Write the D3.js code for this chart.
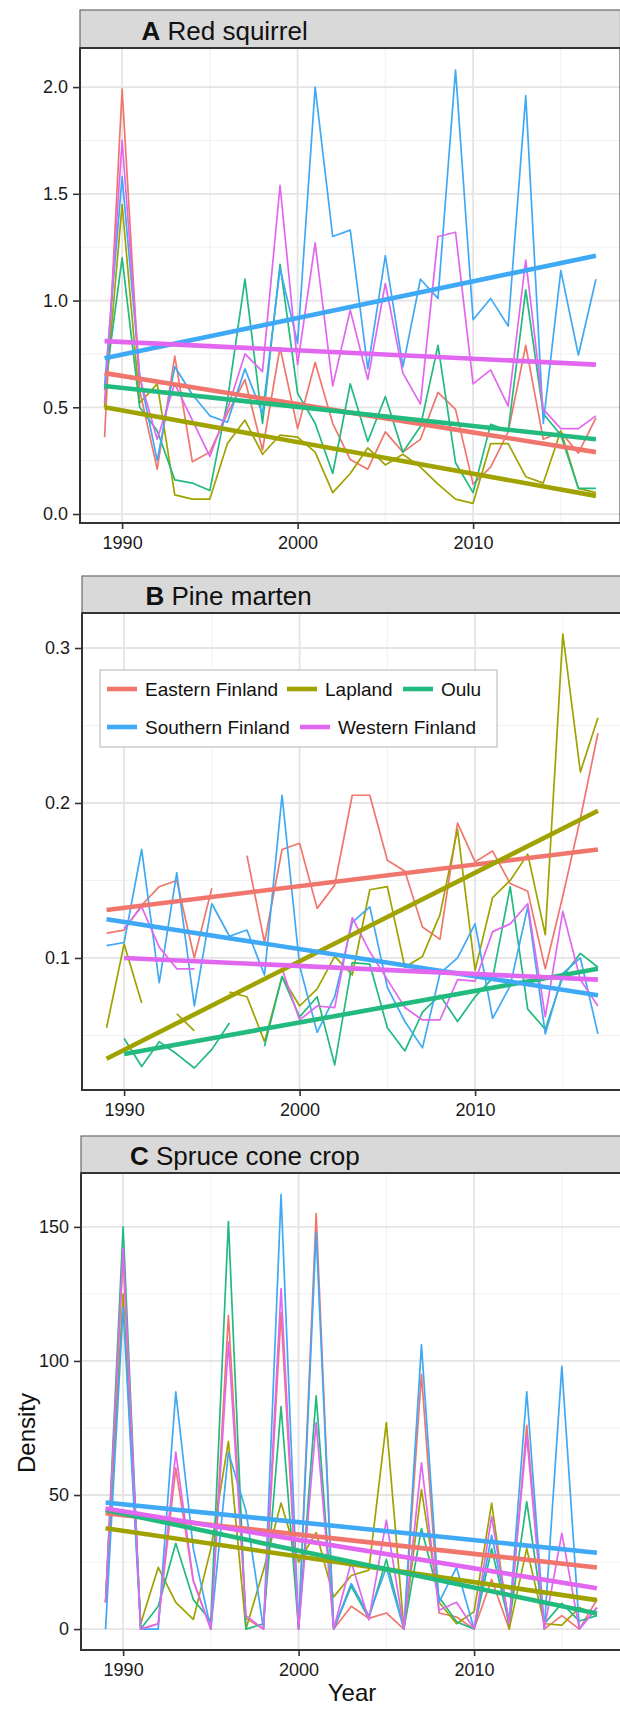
<!DOCTYPE html>
<html>
<head>
<meta charset="utf-8">
<script src="https://cdn.jsdelivr.net/npm/d3@7"></script>
<style>
  body { margin: 0; background: #fff; }
  svg { display: block; font-family: "Liberation Sans", Arial, sans-serif; }
</style>
</head>
<body>
<div id="chart"></div>
<script>
// years on the x axis
const years = [1989, 1990, 1991, 1992, 1993, 1994, 1995, 1996, 1997, 1998, 1999, 2000, 2001, 2002, 2003,
  2004, 2005, 2006, 2007, 2008, 2009, 2010, 2011, 2012, 2013, 2014, 2015, 2016, 2017];

const regions = ['Eastern Finland', 'Lapland', 'Oulu', 'Southern Finland', 'Western Finland'];
const regionColors = ['#F0766D', '#A0A200', '#22BA7E', '#3FA9F5', '#E267F0'];

const xTicks = [1990, 2000, 2010];

// A Red squirrel
const squirrelEast = [0.36, 1.99, 0.58, 0.21, 0.74, 0.245, 0.29, 0.47, 0.63, 0.30, 0.78, 0.40, 0.71, 0.425, 0.255,
  0.21, 0.385, 0.29, 0.35, 0.57, 0.49, 0.14, 0.22, 0.385, 0.79, 0.35, 0.385, 0.285, 0.45];
const squirrelLapland = [0.50, 1.45, 0.52, 0.61, 0.09, 0.07, 0.07, 0.33, 0.44, 0.28, 0.37, 0.36, 0.29, 0.10, 0.19,
  0.31, 0.23, 0.28, 0.22, 0.14, 0.07, 0.05, 0.33, 0.33, 0.175, 0.145, 0.39, 0.12, 0.10];
const squirrelOulu = [0.58, 1.20, 0.50, 0.39, 0.16, 0.145, 0.11, 0.53, 1.10, 0.425, 1.17, 0.565, 0.425, 0.19, 0.61,
  0.34, 0.55, 0.29, 0.41, 0.79, 0.24, 0.10, 0.42, 0.39, 1.05, 0.47, 0.37, 0.12, 0.12];
const squirrelSouth = [0.60, 1.58, 0.65, 0.25, 0.69, 0.56, 0.46, 0.43, 0.68, 0.47, 1.15, 0.80, 2.00, 1.30, 1.33,
  0.68, 1.21, 0.69, 1.10, 1.01, 2.08, 0.91, 1.01, 0.88, 1.96, 0.425, 1.14, 0.745, 1.10];
const squirrelWest = [0.52, 1.75, 0.64, 0.35, 0.61, 0.44, 0.27, 0.49, 0.75, 0.667, 1.54, 0.70, 1.27, 0.60, 0.955,
  0.63, 1.08, 0.66, 0.515, 1.30, 1.32, 0.61, 0.675, 0.505, 1.19, 0.49, 0.40, 0.40, 0.46];
const squirrelTrendStart = [0.66, 0.50, 0.60, 0.73, 0.81];
const squirrelTrendEnd = [0.29, 0.085, 0.35, 1.21, 0.70];
const squirrelTicks = [0, 0.5, 1, 1.5, 2];

// B Pine marten (null = no survey value)
const martenEast = [0.116, 0.118, 0.134, 0.146, 0.150, 0.100, 0.145, null, 0.166, 0.110, 0.170, 0.174, 0.132, 0.147, 0.205,
  0.205, 0.163, 0.156, 0.120, 0.112, 0.187, 0.162, 0.169, 0.148, 0.143, 0.093, 0.140, 0.190, 0.245];
const martenLapland = [0.055, 0.109, 0.071, null, 0.064, 0.053, null, 0.078, 0.075, 0.046, 0.088, 0.069, 0.080, 0.101, 0.089,
  0.144, 0.146, 0.094, 0.101, 0.128, 0.183, 0.092, 0.139, 0.150, 0.167, 0.115, 0.309, 0.220, 0.255];
const martenOulu = [null, 0.048, 0.030, 0.046, 0.038, 0.029, 0.041, 0.058, null, 0.043, 0.088, 0.062, 0.075, 0.031, 0.097,
  0.096, 0.055, 0.040, 0.065, 0.076, 0.059, 0.075, 0.087, 0.146, 0.067, 0.054, 0.088, 0.103, 0.094];
const martenSouth = [0.108, 0.110, 0.170, 0.084, 0.155, 0.069, 0.135, 0.114, 0.118, 0.089, 0.205, 0.095, 0.052, 0.075, 0.123,
  0.133, 0.081, 0.059, 0.042, 0.090, 0.100, 0.122, 0.061, 0.082, 0.133, 0.051, 0.090, 0.100, 0.051];
const martenWest = [null, 0.119, 0.133, 0.107, 0.093, 0.093, null, null, null, null, 0.093, 0.060, 0.069, 0.068, 0.126,
  0.104, 0.086, 0.068, 0.060, 0.060, 0.086, 0.085, 0.117, 0.122, 0.135, 0.062, 0.130, 0.086, 0.069];
const martenTrendStart = [0.131, 0.035, 0.038, 0.125, 0.100];
const martenTrendEnd = [0.170, 0.195, 0.093, 0.076, 0.086];
const martenTicks = [0.1, 0.2, 0.3];

// C Spruce cone crop
const conesEast = [10, 140, 0, 2, 60, 18, 0, 117, 4, 0, 118, 0, 155, 0, 8.5,
  4, 6, 0, 95, 6, 4.5, 0, 18.5, 0, 76, 0, 5, 0, 11];
const conesLapland = [10, 125, 2, 23, 10, 3.6, 30, 70, 0, 22, 47, 25, 36, 12, 20,
  22, 77, 0, 52, 10, 2, 6.5, 47, 0, 30, 2, 1.5, 8, 5];
const conesOulu = [10, 150, 0, 8.5, 32, 11, 3, 152, 0, 2, 83, 0, 87, 0, 16,
  4, 26, 0, 37.5, 12, 2.7, 0, 30, 2, 47.5, 2, 9.6, 3, 5];
const conesSouth = [0, 120, 0, 0, 88.5, 30, 0, 66, 44, 0, 162, 0, 148, 0, 17,
  5, 23, 0, 106, 10, 23, 0, 35, 3, 88.5, 0, 98, 0, 8];
const conesWest = [10, 142, 0, 2, 66, 18, 0, 107, 5, 0, 127, 0, 77, 0, 25,
  3.4, 40.6, 0, 62, 7, 10, 0, 42, 2, 72, 0, 35.7, 0, 8];
const conesTrendStart = [43.2, 37.6, 44.4, 47.2, 45.0];
const conesTrendEnd = [23.0, 10.8, 5.8, 28.5, 15.2];
const conesTicks = [0, 50, 100, 150];

const width = 620;
const height = 1709;

const panels = [
  { label: 'A', title: 'Red squirrel',
    series: [squirrelEast, squirrelLapland, squirrelOulu, squirrelSouth, squirrelWest],
    trendStart: squirrelTrendStart, trendEnd: squirrelTrendEnd,
    yTicks: squirrelTicks, yDomain: [-0.042, 2.183], fmt: d3.format('.1f'),
    left: 80, stripTop: 10, top: 48, bottom: 523, titleX: 141.5 },
  { label: 'B', title: 'Pine marten',
    series: [martenEast, martenLapland, martenOulu, martenSouth, martenWest],
    trendStart: martenTrendStart, trendEnd: martenTrendEnd,
    yTicks: martenTicks, yDomain: [0.0148, 0.3226], fmt: d3.format('.1f'),
    left: 82, stripTop: 576, top: 613, bottom: 1090, titleX: 145.5, legend: true },
  { label: 'C', title: 'Spruce cone crop',
    series: [conesEast, conesLapland, conesOulu, conesSouth, conesWest],
    trendStart: conesTrendStart, trendEnd: conesTrendEnd,
    yTicks: conesTicks, yDomain: [-7.8, 170.1], fmt: d3.format('d'),
    left: 81, stripTop: 1136, top: 1173, bottom: 1650, titleX: 130 }
];

const svg = d3.select('#chart').
  append('svg').
  attr('width', width).
  attr('height', height);

svg.append('rect').attr('width', width).attr('height', height).attr('fill', '#fff');

panels.forEach(function (p) {
  const right = p.left + 540.5;
  const x = d3.scaleLinear().domain([1987.6, 2018.4]).range([p.left, right]);
  const y = d3.scaleLinear().domain(p.yDomain).range([p.bottom, p.top]);
  const g = svg.append('g');

  // grid: minor then major
  const minorX = [1995, 2005, 2015];
  const minorY = p.yTicks.slice(0, -1).map((t, i) => (t + p.yTicks[i + 1]) / 2);
  if (p.yTicks[0] - (p.yTicks[1] - p.yTicks[0]) / 2 > p.yDomain[0]) {
    minorY.unshift(p.yTicks[0] - (p.yTicks[1] - p.yTicks[0]) / 2);
  }
  const lastT = p.yTicks[p.yTicks.length - 1];
  const stepT = p.yTicks[1] - p.yTicks[0];
  if (lastT + stepT / 2 < p.yDomain[1]) minorY.push(lastT + stepT / 2);

  g.selectAll('.minor-x').data(minorX).enter().append('line').
    attr('x1', d => x(d)).attr('x2', d => x(d)).
    attr('y1', p.top).attr('y2', p.bottom).
    attr('stroke', '#f0f0f0').attr('stroke-width', 1);
  g.selectAll('.minor-y').data(minorY).enter().append('line').
    attr('x1', p.left).attr('x2', right).
    attr('y1', d => y(d)).attr('y2', d => y(d)).
    attr('stroke', '#f0f0f0').attr('stroke-width', 1);
  g.selectAll('.major-x').data(xTicks).enter().append('line').
    attr('x1', d => x(d)).attr('x2', d => x(d)).
    attr('y1', p.top).attr('y2', p.bottom).
    attr('stroke', '#e4e4e4').attr('stroke-width', 1.8);
  g.selectAll('.major-y').data(p.yTicks).enter().append('line').
    attr('x1', p.left).attr('x2', right).
    attr('y1', d => y(d)).attr('y2', d => y(d)).
    attr('stroke', '#e4e4e4').attr('stroke-width', 1.8);

  // raw series
  const line = d3.line().
    defined(d => d[1] !== null).
    x(d => x(d[0])).
    y(d => y(d[1]));

  p.series.forEach(function (vals, i) {
    g.append('path').
      datum(years.map((yr, j) => [yr, vals[j]])).
      attr('d', line).
      attr('fill', 'none').
      attr('stroke', regionColors[i]).
      attr('stroke-width', 1.7).
      attr('stroke-linejoin', 'round');
  });

  // fitted trends
  p.series.forEach(function (vals, i) {
    const first = years[vals.findIndex(v => v !== null)];
    g.append('path').
      datum([[first, p.trendStart[i]], [years[years.length - 1], p.trendEnd[i]]]).
      attr('d', line).
      attr('fill', 'none').
      attr('stroke', regionColors[i]).
      attr('stroke-width', 4.6).
      attr('stroke-linecap', 'butt');
  });

  // panel border
  g.append('rect').
    attr('x', p.left).attr('y', p.top).
    attr('width', right - p.left).attr('height', p.bottom - p.top).
    attr('fill', 'none').attr('stroke', '#333').attr('stroke-width', 2);

  // strip
  g.append('rect').
    attr('x', p.left).attr('y', p.stripTop).
    attr('width', right - p.left).attr('height', p.top - p.stripTop).
    attr('fill', '#d9d9d9').attr('stroke', '#6b6b6b').attr('stroke-width', 1.2);
  g.append('line').
    attr('x1', p.left).attr('x2', right).attr('y1', p.top).attr('y2', p.top).
    attr('stroke', '#333').attr('stroke-width', 2.2);
  const title = g.append('text').
    attr('x', p.titleX).attr('y', p.top - 8.5).
    attr('font-size', 26).attr('fill', '#111');
  title.append('tspan').attr('font-weight', 'bold').text(p.label);
  title.append('tspan').text(' ' + p.title);

  // axes
  const xAxis = d3.axisBottom(x).tickValues(xTicks).tickSize(6).tickPadding(7).tickFormat(d3.format('d'));
  const yAxis = d3.axisLeft(y).tickValues(p.yTicks).tickSize(7).tickPadding(5).tickFormat(p.fmt);

  const gx = g.append('g').attr('transform', 'translate(0,' + p.bottom + ')').call(xAxis);
  const gy = g.append('g').attr('transform', 'translate(' + p.left + ',0)').call(yAxis);
  [gx, gy].forEach(function (a) {
    a.select('.domain').remove();
    a.selectAll('.tick line').attr('stroke', '#333').attr('stroke-width', 1.6);
    a.selectAll('.tick text').attr('font-size', 18).attr('fill', '#1a1a1a').
      attr('font-family', '"Liberation Sans", Arial, sans-serif');
  });

  // legend inside panel B
  if (p.legend) {
    const lg = g.append('g');
    lg.append('rect').
      attr('x', 100).attr('y', 670).attr('width', 397).attr('height', 77).
      attr('fill', '#fff').attr('stroke', '#b3b3b3').attr('stroke-width', 1);
    const slots = [
      { kx: 107, row: 0 }, { kx: 287, row: 0 }, { kx: 403, row: 0 },
      { kx: 107, row: 1 }, { kx: 300, row: 1 }
    ];
    regions.forEach(function (name, i) {
      const s = slots[i];
      const cy = 689 + s.row * 38;
      lg.append('line').
        attr('x1', s.kx).attr('x2', s.kx + 30).attr('y1', cy).attr('y2', cy).
        attr('stroke', regionColors[i]).attr('stroke-width', 4.6);
      lg.append('text').
        attr('x', s.kx + 38).attr('y', cy + 6.8).
        attr('font-size', 19).attr('fill', '#111').
        text(name);
    });
  }
});

// axis titles
svg.append('text').
  attr('x', 352).attr('y', 1701).
  attr('text-anchor', 'middle').
  attr('font-size', 24).attr('fill', '#111').
  text('Year');

svg.append('text').
  attr('transform', 'translate(35,1433) rotate(-90)').
  attr('text-anchor', 'middle').
  attr('font-size', 24).attr('fill', '#111').
  text('Density');
</script>
</body>
</html>
